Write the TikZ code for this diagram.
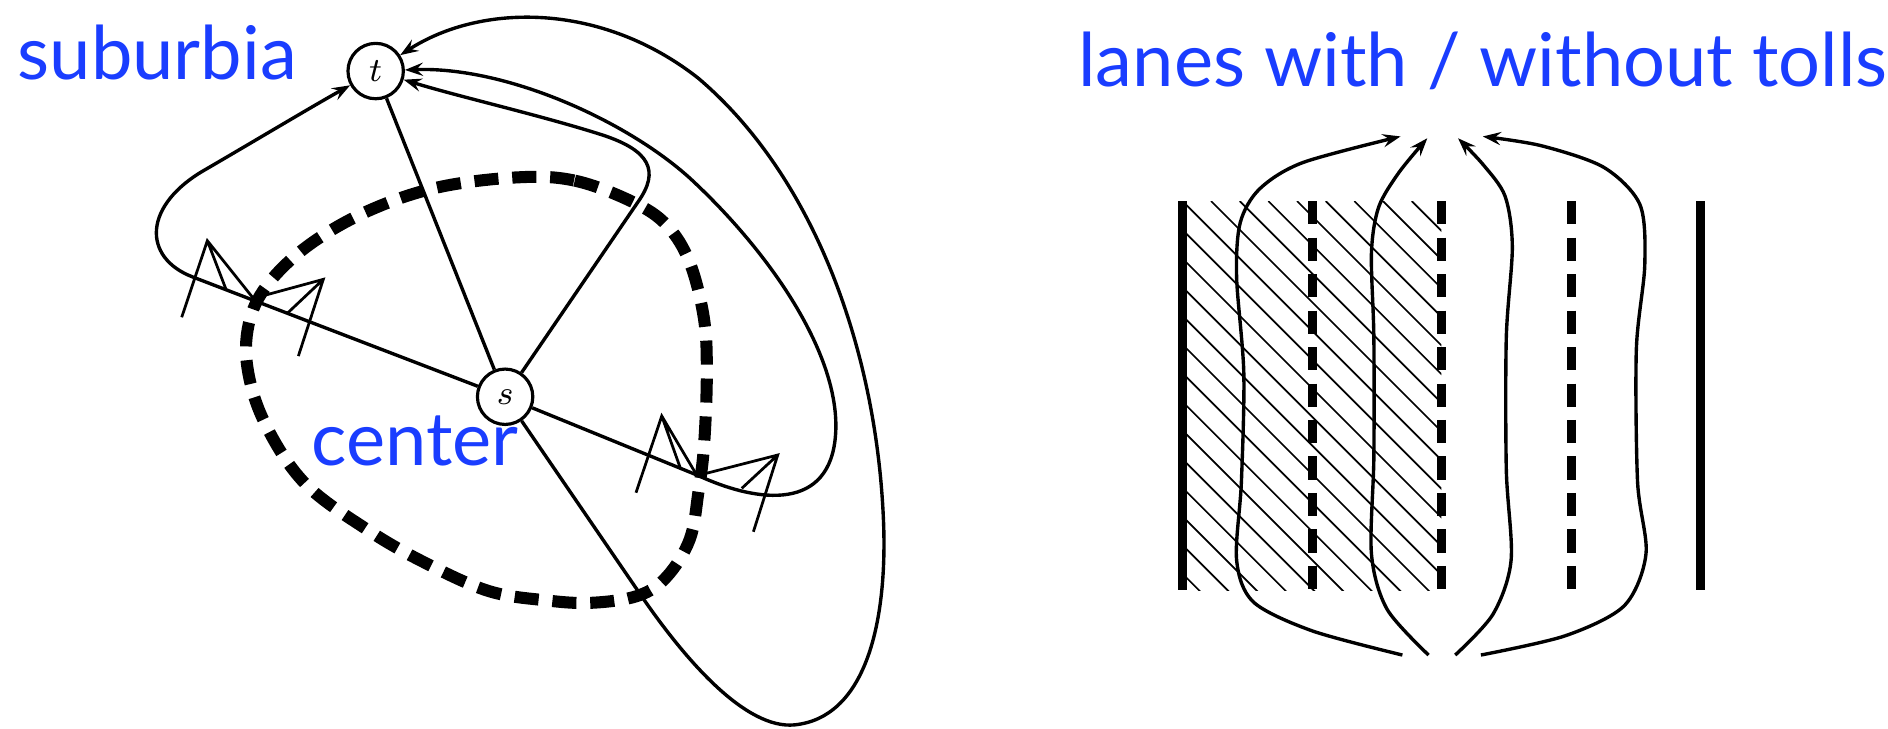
\documentclass[tikz,border=0pt]{standalone}
\usepackage{fontspec}
\usetikzlibrary{arrows.meta}
\newfontfamily\capfont{Lato}
\definecolor{capblue}{HTML}{1A3DFF}

\begin{document}
\begin{tikzpicture}[x=0.1mm, y=-0.1mm,
  >={Stealth[length=1.5mm, width=1.1mm, inset=0.55mm]},
  road/.style={line width=0.8pt},
  booth/.style={line width=0.65pt},
  cordon/.style={line width=1.0mm, dash pattern=on 2.0mm off 1.15mm},
  laneedge/.style={line width=0.72mm},
  lanemark/.style={line width=0.72mm, dash pattern=on 1.93mm off 1.1mm},
  hatchline/.style={line width=0.4pt},
  junction/.style={circle, draw, fill=white, line width=0.75pt, minimum size=4.6mm,
    inner sep=0pt, font=\fontsize{8.5}{10}\selectfont},
  caption/.style={text=capblue, font=\capfont\fontsize{17.5}{20}\selectfont,
    anchor=base west, inner sep=0pt}]

% Background / bounding box
\useasboundingbox (0,0) rectangle (1568,605);

% ===== Left: city with ring of tolls =====
\node[junction] (t) at (312,59) {$t$};
\node[junction] (s) at (419.5,329.5) {$s$};

% radial roads and routes to t
\draw[road] (s) -- (t);
\draw[road, ->] (s) -- (160,230) .. controls (118,214) and (118,170) .. (172,140)
  .. controls (220,112) and (260,88) .. (t);
\draw[road, ->] (s) -- (530,167.5) .. controls (548,142) and (540,125) .. (500,112)
  .. controls (450,96) and (380,80) .. (t);
\draw[road, ->] (s) -- (580,395) .. controls (630,418) and (690,425) .. (694,360)
  .. controls (698,295) and (640,210) .. (573,148)
  .. controls (520,100) and (420,55) .. (t);
\draw[road, ->] (s) -- (530,491) .. controls (570,550) and (620,606) .. (660,602)
  .. controls (718,596) and (736,520) .. (734,440)
  .. controls (730,300) and (680,150) .. (580,65)
  .. controls (500,2) and (400,2) .. (t);

% toll booths
\draw[booth] (150.9,263.5) -- (172.2,199.9) -- (210.4,247.8)
  (172.2,199.9) -- (187.7,240.3);
\draw[booth] (210.4,247.8) -- (268.5,232) -- (247.8,295.7)
  (268.5,232) -- (238.6,260.2);
\draw[booth] (528.2,409.2) -- (549.6,345.5) -- (578.6,394.5)
  (549.6,345.5) -- (564.8,388.1);
\draw[booth] (584.2,393.7) -- (645.9,377.9) -- (625.7,441.6)
  (645.9,377.9) -- (616,405.6);

% cordon round the center
\draw[cordon] plot[smooth cycle, tension=0.6] coordinates {
  (429.6,147.3) (477.3,150) (525,167.5) (553.7,187) (572.8,218) (584.7,265)
  (587,311.6) (584.7,370) (580,409) (572.8,448) (553.7,479) (530,494.7)
  (491.6,500.6) (453.5,498.6) (405.7,490.8) (353.2,467.5) (305.5,440.2)
  (253,401.2) (219.6,350.6) (205.3,303.9) (207.6,265) (224.3,233.7)
  (257.8,202.6) (305.5,175.3) (362.8,155.8)};

\node[caption] (suburbia) at (14,66.4) {suburbia};
\node[caption] (center) at (258,386.2) {center};

% ===== Right: lanes =====
\begin{scope}
  \clip (982,167) rectangle (1197,490);
  \foreach \i in {-14,...,9}
    \draw[hatchline] ({982+23.8*\i},167) -- ++(400,400);
\end{scope}

\draw[laneedge] (982,167) -- (982,490);
\draw[laneedge] (1412,167) -- (1412,490);
\foreach \x in {1090,1197,1305}
  \draw[lanemark] (\x,167) -- (\x,490);

\draw[road, ->] plot[smooth] coordinates {(1164.7,544) (1090,524) (1041,500)
  (1027,465) (1031,400) (1033,310) (1027,230) (1030,185) (1046,157)
  (1082,135) (1163.2,113.3)};
\draw[road, ->] plot[smooth] coordinates {(1186.4,544) (1152,506) (1139,460)
  (1141,380) (1141,280) (1139,210) (1145,172) (1162,143) (1185.4,114.8)};
\draw[road, ->] plot[smooth] coordinates {(1208.6,544) (1240,510) (1255,465)
  (1251,390) (1251,280) (1256,205) (1250,163) (1232,137) (1210.9,114.8)};
\draw[road, ->] plot[smooth] coordinates {(1229.9,544) (1300,528) (1349,503)
  (1367,460) (1360,400) (1359,290) (1366,220) (1362,170) (1332,139)
  (1280,121) (1231.5,113.3)};

\node[caption] (lanes) at (895,72) {lanes with / without tolls};

\end{tikzpicture}
\end{document}
